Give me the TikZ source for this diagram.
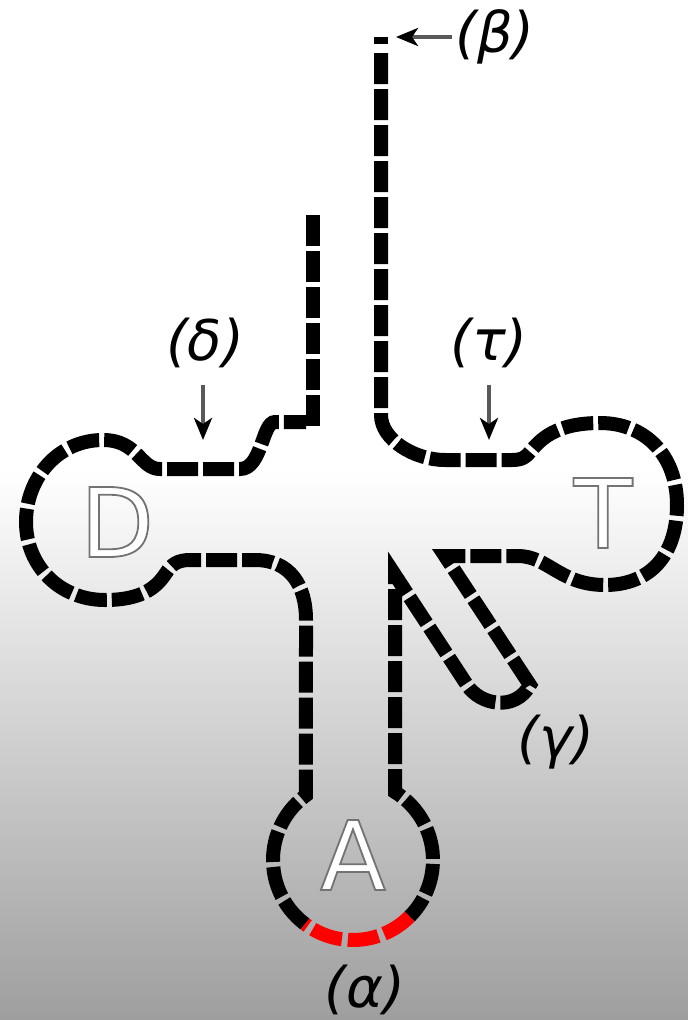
\documentclass[tikz,border=0pt]{standalone}
\usepackage{fontspec}
\usetikzlibrary{arrows.meta}
\newfontfamily\lblfont{DejaVu Sans}
\newfontfamily\letfont{DejaVu Sans}
\newcommand{\hollowtext}[1]{{\color{white}\special{pdf:literal direct 2 Tr 1.8 w 0.45 G}#1\special{pdf:literal direct 0 Tr}}}
\begin{document}
\begin{tikzpicture}[x=1pt,y=1pt,
  strand/.style={line width=14pt, dash pattern=on 31pt off 5pt, black},
  redstrand/.style={line width=14pt, dash pattern=on 31pt off 6pt, red},
  lbl/.style={font=\lblfont\itshape\fontsize{56}{60}\selectfont, inner sep=0pt},
  letter/.style={font=\letfont\fontsize{96}{100}\selectfont, inner sep=0pt},
  arr/.style={line width=4pt, draw=black!65, -{Stealth[length=22pt,width=18pt,inset=6pt,black]}}
]
\useasboundingbox (0,0) rectangle (688,-1020);
\fill[white] (0,0) rectangle (688,-1020);
\shade[top color=white, middle color=black!11, bottom color=black!38] (0,-470) rectangle (688,-1020);

\coordinate (Ac) at (353,-860);

% strand: 3' end, T arm, variable loop, anticodon arm (right half)
\draw[strand] (381,-37) -- (381,-44);
\draw[strand] (381,-53) -- (381,-415)
  .. controls (381,-440) and (415,-460) .. (445,-460) -- (512,-460)
  .. controls (522,-460) and (526,-457) .. (530,-452)
  .. controls (540,-440) and (555,-423) .. (600,-423)
  .. controls (645,-423) and (677,-455) .. (677,-505)
  .. controls (677,-555) and (650,-585) .. (605,-585)
  .. controls (560,-585) and (548,-556) .. (518,-556) -- (445,-556)
  -- (530,-685) .. controls (515,-712) and (480,-705) .. (467,-685)
  -- (395,-575) -- (395,-792) arc[start angle=58.3, end angle=-45, radius=80pt];
% anticodon
\draw[redstrand] ([shift={(-45:80pt)}]Ac) arc[start angle=-45, end angle=-127, radius=80pt];
% anticodon arm (left half), D arm
\draw[strand] ([shift={(-127:80pt)}]Ac) arc[start angle=-127, end angle=-234, radius=80pt]
  -- (306,-620) .. controls (306,-585) and (290,-560) .. (255,-560) -- (190,-560)
  .. controls (177,-560) and (171,-565) .. (166,-573)
  .. controls (158,-585) and (145,-600) .. (105,-600)
  .. controls (60,-600) and (26,-566) .. (26,-522)
  .. controls (26,-478) and (58,-440) .. (103,-440)
  .. controls (138,-440) and (140,-469) .. (160,-469) -- (240,-469)
  .. controls (262,-469) and (262,-422) .. (275,-422) -- (306,-422);
% 5' end
\draw[strand] (313,-215) -- (313,-429);

% loop letters
\node[letter] (D) at (117,-522) {\hollowtext{D}};
\node[letter] (T) at (603,-513) {\hollowtext{T}};
\node[letter] (A) at (353,-855) {\hollowtext{A}};

% labels
\node[lbl] (beta) at (495,-37) {(β)};
\node[lbl] (delta) at (205,-343) {(δ)};
\node[lbl] (tau) at (489,-343) {(τ)};
\node[lbl] (gamma) at (556,-742) {(γ)};
\node[lbl] (alpha) at (365,-990) {(α)};

\coordinate (b0) at (452,-37);
\coordinate (b1) at (396,-37);
\coordinate (d0) at (203,-385);
\coordinate (d1) at (203,-440);
\coordinate (t0) at (489,-385);
\coordinate (t1) at (489,-440);
\draw[arr] (b0) -- (b1);
\draw[arr] (d0) -- (d1);
\draw[arr] (t0) -- (t1);
\end{tikzpicture}
\end{document}
